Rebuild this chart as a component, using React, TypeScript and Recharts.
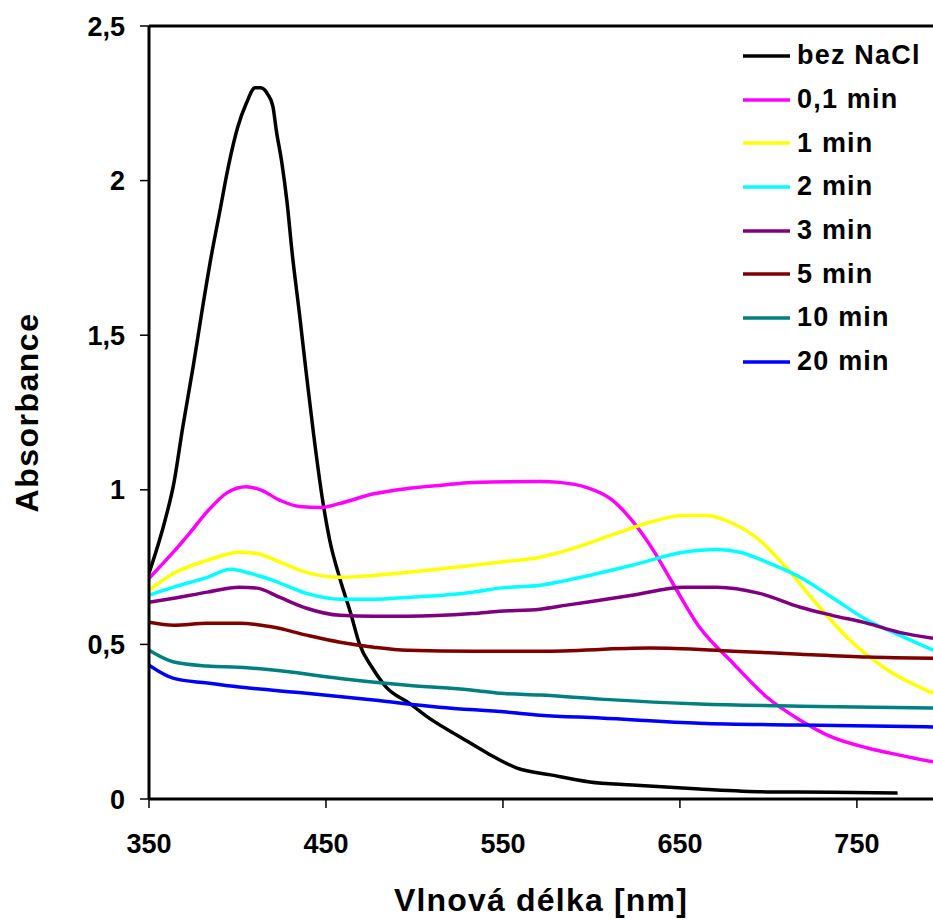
import { LineChart, Line, XAxis, YAxis, ReferenceLine, Legend } from 'recharts';

const wavelengthTicks = [350, 450, 550, 650, 750];
const absorbanceTicks = [0, 0.5, 1, 1.5, 2, 2.5];

const bezNaClX = [350, 359, 364, 369, 375, 380, 385, 390, 395, 400, 405, 410, 413, 417, 420, 422, 425, 428, 431, 435, 439, 443, 448, 452, 458, 464, 469, 476, 484, 497, 510, 526, 541, 558, 577, 599, 623, 661, 699, 736, 773];
const bezNaClY = [0.73, 0.9, 1.02, 1.2, 1.4, 1.58, 1.75, 1.9, 2.05, 2.17, 2.25, 2.3, 2.3, 2.28, 2.24, 2.16, 2.06, 1.93, 1.76, 1.57, 1.37, 1.18, 0.97, 0.84, 0.71, 0.6, 0.5, 0.426, 0.362, 0.31, 0.255, 0.2, 0.149, 0.1, 0.078, 0.055, 0.045, 0.032, 0.023, 0.022, 0.019];

const min01X = [350, 364, 373, 383, 394, 405, 413, 424, 435, 447, 458, 477, 496, 514, 533, 571, 582, 597, 612, 623, 635, 646, 661, 680, 699, 718, 736, 756, 774, 793];
const min01Y = [0.714, 0.8, 0.86, 0.93, 0.99, 1.01, 1.0, 0.966, 0.946, 0.943, 0.956, 0.987, 1.004, 1.014, 1.024, 1.027, 1.024, 1.008, 0.966, 0.9, 0.804, 0.697, 0.556, 0.439, 0.33, 0.255, 0.2, 0.165, 0.142, 0.12];

const min1X = [350, 364, 383, 401, 411, 424, 439, 458, 477, 496, 533, 548, 571, 586, 614, 633, 652, 665, 680, 695, 708, 727, 746, 765, 793];
const min1Y = [0.675, 0.73, 0.772, 0.798, 0.794, 0.766, 0.733, 0.717, 0.723, 0.733, 0.756, 0.766, 0.782, 0.804, 0.859, 0.895, 0.917, 0.917, 0.891, 0.837, 0.762, 0.633, 0.514, 0.426, 0.342];

const min2X = [350, 364, 383, 396, 407, 420, 439, 458, 477, 496, 533, 548, 571, 586, 623, 652, 671, 684, 699, 718, 736, 756, 774, 793];
const min2Y = [0.659, 0.685, 0.717, 0.743, 0.73, 0.707, 0.665, 0.646, 0.646, 0.652, 0.669, 0.682, 0.691, 0.707, 0.756, 0.798, 0.807, 0.798, 0.766, 0.717, 0.652, 0.578, 0.53, 0.481];

const min3X = [350, 364, 383, 401, 411, 424, 439, 458, 477, 496, 533, 548, 571, 586, 623, 652, 671, 695, 718, 736, 756, 774, 793];
const min3Y = [0.636, 0.649, 0.669, 0.685, 0.682, 0.652, 0.617, 0.594, 0.591, 0.591, 0.6, 0.607, 0.614, 0.627, 0.659, 0.685, 0.685, 0.665, 0.62, 0.594, 0.568, 0.539, 0.52];

const min5X = [350, 364, 383, 401, 420, 439, 458, 477, 496, 533, 571, 633, 680, 718, 756, 793];
const min5Y = [0.572, 0.562, 0.568, 0.568, 0.556, 0.53, 0.507, 0.491, 0.481, 0.478, 0.478, 0.488, 0.478, 0.468, 0.459, 0.455];

const min10X = [350, 364, 383, 401, 420, 458, 496, 533, 548, 571, 605, 661, 718, 793];
const min10Y = [0.481, 0.443, 0.43, 0.426, 0.417, 0.39, 0.368, 0.352, 0.342, 0.336, 0.323, 0.307, 0.3, 0.294];

const min20X = [350, 364, 383, 401, 439, 477, 514, 552, 571, 605, 661, 718, 793];
const min20Y = [0.433, 0.39, 0.375, 0.362, 0.342, 0.32, 0.297, 0.281, 0.271, 0.262, 0.245, 0.239, 0.233];

const toPoints = (xs: number[], ys: number[]) => xs.map((x, i) => ({ x, y: ys[i] }));

const series = [
  { name: 'bez NaCl', color: '#000000', data: toPoints(bezNaClX, bezNaClY) },
  { name: '0,1 min', color: '#FF00FF', data: toPoints(min01X, min01Y) },
  { name: '1 min', color: '#FFFF00', data: toPoints(min1X, min1Y) },
  { name: '2 min', color: '#00FFFF', data: toPoints(min2X, min2Y) },
  { name: '3 min', color: '#800080', data: toPoints(min3X, min3Y) },
  { name: '5 min', color: '#800000', data: toPoints(min5X, min5Y) },
  { name: '10 min', color: '#008080', data: toPoints(min10X, min10Y) },
  { name: '20 min', color: '#0000FF', data: toPoints(min20X, min20Y) },
];

const FONT = '"Liberation Sans", Arial, sans-serif';

// keep the series order (Recharts sorts the payload by name)
function LegendBox() {
  return (
    <div style={{ fontFamily: FONT, fontWeight: 'bold', fontSize: 27, letterSpacing: 1.2 }}>
      {series.map(s => (
        <div key={s.name} style={{ height: 43.7, display: 'flex', alignItems: 'center' }}>
          <svg width={54} height={6} style={{ display: 'block' }}>
            <line x1={0} y1={3} x2={47} y2={3} stroke={s.color} strokeWidth={3.5} />
          </svg>
          <span style={{ color: '#000' }}>{s.name}</span>
        </div>
      ))}
    </div>
  );
}

export default function App() {
  const tickStyle = { fontFamily: FONT, fontWeight: 'bold', fontSize: 27, fill: '#000' };
  return (
    <div style={{ position: 'absolute', left: 0, top: 0, background: '#fff' }}>
      <LineChart width={933} height={920} margin={{ top: 26, right: 0, left: 0, bottom: 0 }}>
        <XAxis
          type="number"
          dataKey="x"
          domain={[350, 793]}
          allowDataOverflow
          ticks={wavelengthTicks}
          height={121}
          tick={tickStyle}
          tickSize={9}
          tickMargin={26}
          axisLine={{ stroke: '#000', strokeWidth: 3 }}
          tickLine={{ stroke: '#000', strokeWidth: 1.5 }}
          label={{
            value: 'Vlnová délka [nm]',
            position: 'insideBottom',
            offset: 9,
            style: { fontFamily: FONT, fontWeight: 'bold', fontSize: 32, letterSpacing: 1.2, fill: '#000' },
          }}
        />
        <YAxis
          type="number"
          domain={[0, 2.5]}
          ticks={absorbanceTicks}
          width={149}
          tick={tickStyle}
          tickSize={9}
          tickMargin={15}
          tickFormatter={(v: number) => String(v).replace('.', ',')}
          axisLine={{ stroke: '#000', strokeWidth: 3 }}
          tickLine={{ stroke: '#000', strokeWidth: 1.5 }}
          label={{
            value: 'Absorbance',
            angle: -90,
            position: 'insideLeft',
            offset: 27,
            style: { textAnchor: 'middle', fontFamily: FONT, fontWeight: 'bold', fontSize: 32, letterSpacing: 1.5, fill: '#000' },
          }}
        />
        <ReferenceLine y={2.5} stroke="#000" strokeWidth={3} />
        <Legend
          layout="horizontal"
          verticalAlign="middle"
          align="center"
          content={<LegendBox />}
          wrapperStyle={{ left: 743, top: 34, width: 190 }}
        />
        {series.map(s => (
          <Line
            key={s.name}
            data={s.data}
            dataKey="y"
            name={s.name}
            type="monotone"
            stroke={s.color}
            strokeWidth={3.5}
            dot={false}
            isAnimationActive={false}
          />
        ))}
      </LineChart>
    </div>
  );
}
